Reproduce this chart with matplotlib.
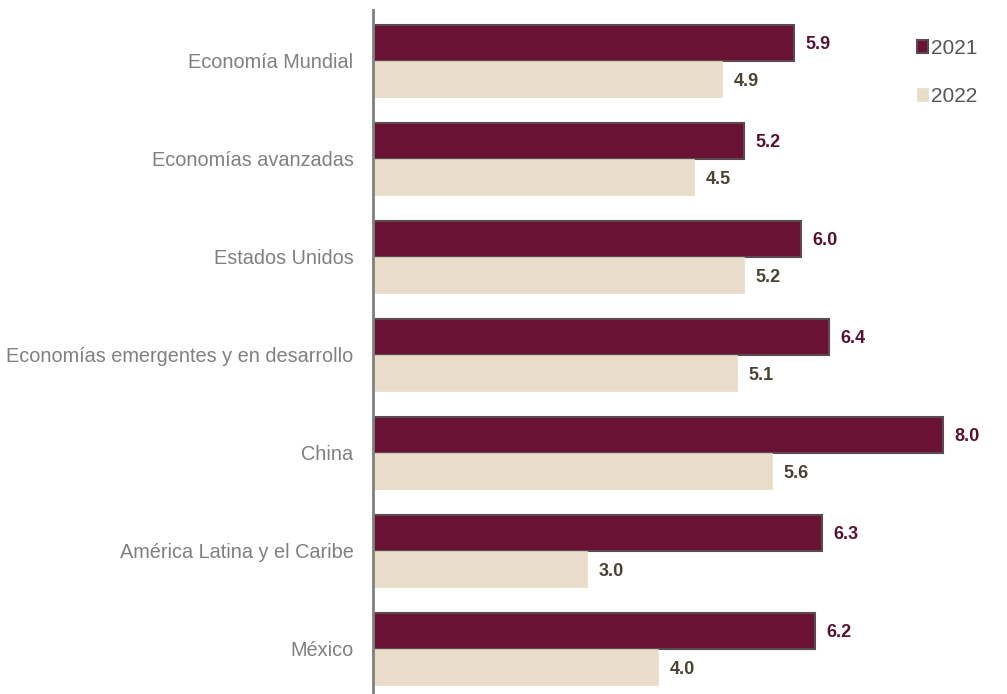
import numpy as np
import matplotlib.pyplot as plt
from matplotlib import font_manager

categories = [
    "Economía Mundial",
    "Economías avanzadas",
    "Estados Unidos",
    "Economías emergentes y en desarrollo",
    "China",
    "América Latina y el Caribe",
    "México",
]
vals_2021 = [5.9, 5.2, 6.0, 6.4, 8.0, 6.3, 6.2]
vals_2022 = [4.9, 4.5, 5.2, 5.1, 5.6, 3.0, 4.0]
series_labels = ["2021", "2022"]

c2021 = "#6a1233"
c2022 = "#e9ddc9"

names = {f.name for f in font_manager.fontManager.ttflist}
narrow = "Liberation Sans Narrow" if "Liberation Sans Narrow" in names else "Liberation Sans"

fig = plt.figure(figsize=(10.07, 6.94), dpi=100)
ax = fig.add_axes([373 / 1007, 0.0, 634 / 1007, 684 / 694])

y = np.arange(len(categories))
h = 0.37
ax.barh(y - h / 2, vals_2021, height=h, color=c2021, edgecolor="#5c4a52",
        linewidth=1.5, label=series_labels[0])
ax.barh(y + h / 2, vals_2022, height=h, color=c2022, edgecolor=c2022,
        linewidth=0.5, label=series_labels[1])

# value labels next to the bar ends
for yi, v in zip(y, vals_2021):
    ax.text(v + 0.16, yi - h / 2 + 0.02, f"{v:.1f}", va="center", ha="left",
            fontsize=13, fontweight="bold", color="#5a1030", family=narrow)
for yi, v in zip(y, vals_2022):
    ax.text(v + 0.16, yi + h / 2 + 0.02, f"{v:.1f}", va="center", ha="left",
            fontsize=13, fontweight="bold", color="#4a4232", family=narrow)

ax.set_xlim(0, 634 / 71.3)
ax.set_ylim(6 + 45 / 98, -51 / 98)
ax.set_yticks(y)
ax.set_yticklabels(categories, fontsize=14.3, color="#808080", family="Liberation Sans")
ax.tick_params(axis="y", length=0, pad=14)
ax.set_xticks([])
for s in ["top", "right", "bottom"]:
    ax.spines[s].set_visible(False)
ax.spines["left"].set_color("#808080")
ax.spines["left"].set_linewidth(2)

leg = ax.legend(loc="upper left", bbox_to_anchor=(898 / 1007, 1 - 20 / 694),
                bbox_transform=fig.transFigure, frameon=False,
                handlelength=0.55, handleheight=0.55, handletextpad=0.15,
                labelspacing=1.4, prop={"family": "Liberation Sans", "size": 15})
for t in leg.get_texts():
    t.set_color("#555555")

fig.savefig("out.png", dpi=100)
